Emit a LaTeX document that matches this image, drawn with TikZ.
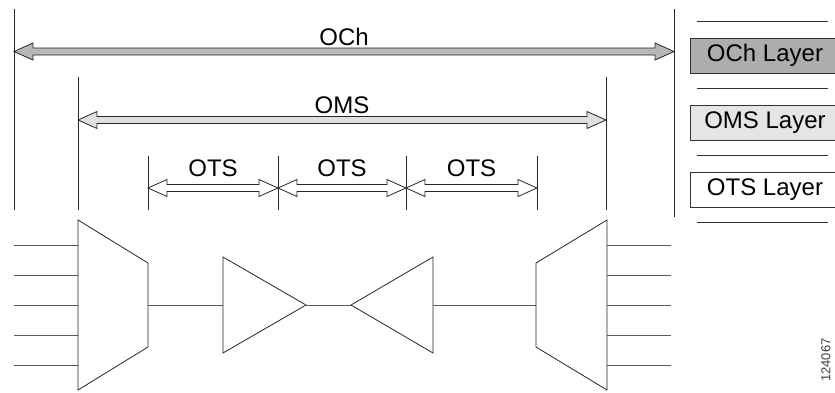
\documentclass[tikz,border=0pt]{standalone}
\usepackage{fontspec}
\setmainfont{Liberation Sans}
\usetikzlibrary{calc,positioning}

\definecolor{ocharrow}{gray}{0.72}
\definecolor{omsarrow}{gray}{0.88}
\definecolor{ochbox}{gray}{0.68}
\definecolor{omsbox}{gray}{0.90}

\tikzset{
  lbl/.style={font=\fontsize{24}{26}\selectfont, inner sep=0pt},
  layer/.style={draw=black!80, lbl, minimum width=150pt, minimum height=35pt},
  spanline/.style={draw=black!85, line width=0.8pt, line join=miter},
  tick/.style={black!85, line width=0.8pt},
  sep/.style={black!80, line width=0.8pt},
  wire/.style={black!65, line width=0.9pt},
  part/.style={black!85, line width=0.8pt, fill=white, line join=miter}
}

% double headed span arrow between two tip coordinates
\newcommand{\spanarrow}[3]{%
  \draw[spanline, fill=#3] (#1) -- ($(#1)+(19,8.5)$) -- ($(#1)+(19,3.5)$)
    -- ($(#2)+(-19,3.5)$) -- ($(#2)+(-19,8.5)$) -- (#2)
    -- ($(#2)+(-19,-8.5)$) -- ($(#2)+(-19,-3.5)$)
    -- ($(#1)+(19,-3.5)$) -- ($(#1)+(19,-8.5)$) -- cycle;}

\begin{document}
\begin{tikzpicture}[x=1pt,y=1pt]
\useasboundingbox (0,0) rectangle (835,-392);

% section boundaries
\foreach \x/\t/\b in {14/9/210, 78/77/210, 148/156/210, 278/156/210,
                      406/156/210, 537/156/210, 606/77/210, 674/9/217}
  \draw[tick] (\x,-\t) -- (\x,-\b);

\coordinate (ochL) at (14,-51.5);
\coordinate (ochR) at (674,-51.5);
\coordinate (omsL) at (78,-120);
\coordinate (omsR) at (606,-120);
\coordinate (ots0) at (148,-188);
\coordinate (ots1) at (278,-188);
\coordinate (ots2) at (406,-188);
\coordinate (ots3) at (537,-188);

% spans
\spanarrow{ochL}{ochR}{ocharrow}
\node[lbl, anchor=base] (och) at ($(ochL)!0.5!(ochR)+(0,6.5)$) {OCh};
\spanarrow{omsL}{omsR}{omsarrow}
\node[lbl, anchor=base] (oms) at ($(omsL)!0.5!(omsR)+(0,7)$) {OMS};
\foreach \i/\j in {0/1,1/2,2/3} {
  \spanarrow{ots\i}{ots\j}{white}
  \node[lbl, anchor=base] (otslbl\i) at ($(ots\i)!0.5!(ots\j)+(0,11.5)$) {OTS};
}

% layer legend
\foreach \y in {21,88,155,222}
  \draw[sep] (697,-\y) -- (828,-\y);
\node[layer, fill=ochbox] (ochlayer) at (765,-55.5) {OCh Layer};
\node[layer, fill=omsbox] (omslayer) at (765,-123) {OMS Layer};
\node[layer, fill=white] (otslayer) at (765,-189.5) {OTS Layer};

% line system
\coordinate (mux1out) at (148,-305);
\coordinate (amp1in) at (223,-305);
\coordinate (amp1out) at (306,-305);
\coordinate (amp2out) at (351,-305);
\coordinate (amp2in) at (433,-305);
\coordinate (mux2in) at (536,-305);

\foreach \y in {245,275,305,335,365} {
  \draw[wire] (14,-\y) -- (78,-\y);
  \draw[wire] (607,-\y) -- (671,-\y);
}
\draw[wire] (mux1out) -- (amp1in);
\draw[wire] (amp1out) -- (amp2out);
\draw[wire] (amp2in) -- (mux2in);

\draw[part] (78,-220) -- (148,-263) -- (148,-347) -- (78,-390) -- cycle;
\draw[part] (amp1in) -- ++(0,48) -- (amp1out) -- ++(-83,-48) -- cycle;
\draw[part] (amp2in) -- ++(0,48) -- (amp2out) -- ++(82,-48) -- cycle;
\draw[part] (607,-220) -- (536,-263) -- (536,-347) -- (607,-390) -- cycle;

\node[rotate=90, font=\fontsize{13}{13}\selectfont, text=black!75] (fignum) at (826,-360) {124067};
\end{tikzpicture}
\end{document}
